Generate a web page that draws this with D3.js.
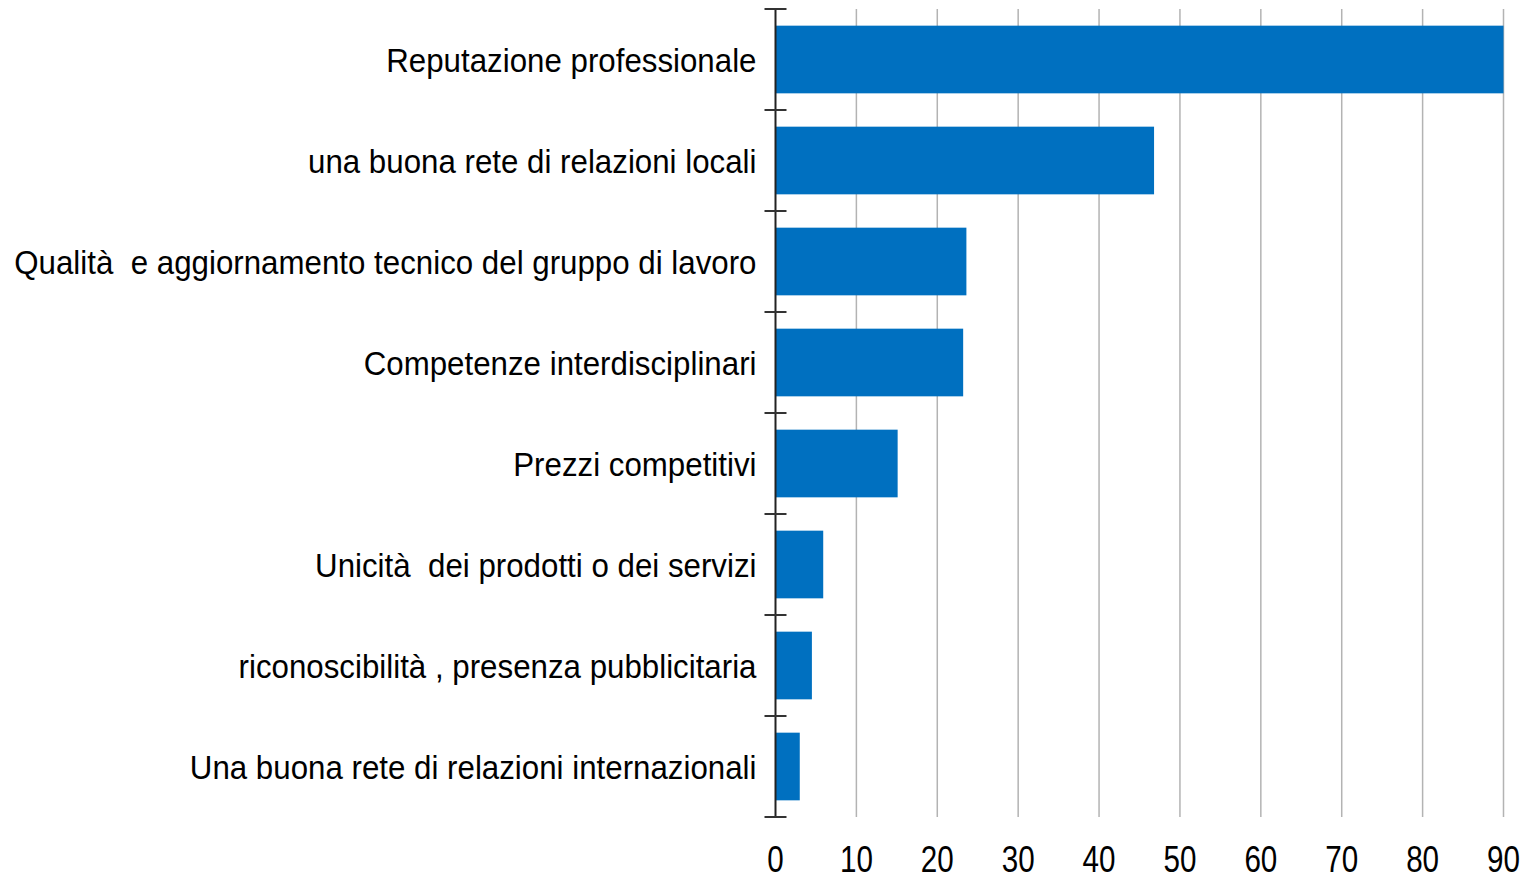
<!DOCTYPE html>
<html>
<head>
<meta charset="utf-8">
<script src="https://cdn.jsdelivr.net/npm/d3@7"></script>
<style>
  body { margin: 0; background: #fff; }
  svg text { font-family: "Liberation Sans Narrow", "Liberation Sans", Arial, sans-serif; fill: #000; white-space: pre; }
</style>
</head>
<body>
<div id="chart"></div>
<script>
// Size of the drawing area, same as the browser window
const w = 1528;
const h = 879;

// Categories top to bottom and their values
const categories = [
  "Reputazione professionale",
  "una buona rete di relazioni locali",
  "Qualità  e aggiornamento tecnico del gruppo di lavoro",
  "Competenze interdisciplinari",
  "Prezzi competitivi",
  "Unicità  dei prodotti o dei servizi",
  "riconoscibilità , presenza pubblicitaria",
  "Una buona rete di relazioni internazionali"
];
const values = [90, 46.8, 23.6, 23.2, 15.1, 5.9, 4.5, 3.0];
const xTicks = [0, 10, 20, 30, 40, 50, 60, 70, 80, 90];

// Plot edges
const plotLeft = 775.5;
const plotRight = 1503.5;
const plotTop = 9;
const plotBottom = 817;

// the narrow font is not installed, so the text is squeezed sideways
const labelSqueeze = 0.92;
const tickSqueeze = 0.8;

const svg = d3.select("#chart").append("svg")
  .attr("width", w)
  .attr("height", h);

const xScale = d3.scaleLinear().domain([0, 90]).range([plotLeft, plotRight]);
const yScale = d3.scaleBand()
  .domain(categories)
  .range([plotTop, plotBottom])
  .paddingInner(0.33)
  .paddingOuter(0.165);

// vertical grid lines
svg.append("g")
  .selectAll("line")
  .data(xTicks.slice(1))
  .enter()
  .append("line")
  .attr("x1", d => xScale(d))
  .attr("x2", d => xScale(d))
  .attr("y1", plotTop)
  .attr("y2", plotBottom)
  .attr("stroke", "#b3b3b3")
  .attr("stroke-width", 1.5);

// bars
svg.append("g")
  .selectAll("rect")
  .data(categories)
  .enter()
  .append("rect")
  .attr("x", xScale(0))
  .attr("y", d => yScale(d))
  .attr("width", (d, i) => xScale(values[i]) - xScale(0))
  .attr("height", yScale.bandwidth())
  .attr("fill", "#0070c0");

// y axis line with crossing ticks at band edges
const yAxisG = svg.append("g");
yAxisG.append("line")
  .attr("x1", plotLeft).attr("x2", plotLeft)
  .attr("y1", plotTop).attr("y2", plotBottom)
  .attr("stroke", "#222").attr("stroke-width", 2);

const step = (plotBottom - plotTop) / categories.length;
yAxisG.selectAll("line.tick")
  .data(d3.range(categories.length + 1))
  .enter()
  .append("line")
  .attr("class", "tick")
  .attr("x1", plotLeft - 11).attr("x2", plotLeft + 11)
  .attr("y1", d => plotTop + d * step)
  .attr("y2", d => plotTop + d * step)
  .attr("stroke", "#333").attr("stroke-width", 2);

// category labels
svg.append("g")
  .selectAll("text")
  .data(categories)
  .enter()
  .append("text")
  .attr("transform", d => `translate(${plotLeft - 19},${yScale(d) + yScale.bandwidth() / 2}) scale(${labelSqueeze},1)`)
  .attr("dy", "0.36em")
  .attr("text-anchor", "end")
  .style("font-size", "34px")
  .text(d => d);

// x tick labels
svg.append("g")
  .selectAll("text")
  .data(xTicks)
  .enter()
  .append("text")
  .attr("transform", d => `translate(${xScale(d)},872) scale(${tickSqueeze},1)`)
  .attr("text-anchor", "middle")
  .style("font-size", "37px")
  .text(d => d);
</script>
</body>
</html>
